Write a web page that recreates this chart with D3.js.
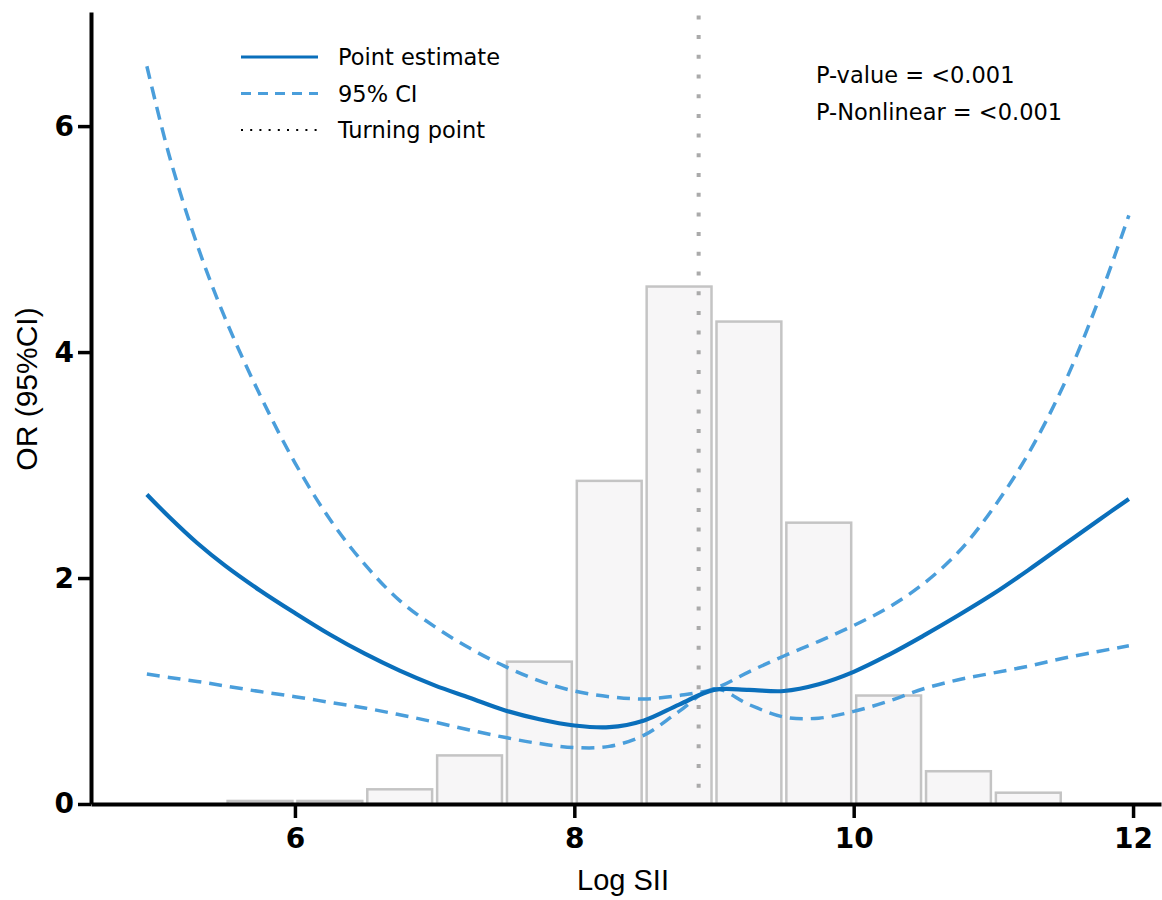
<!DOCTYPE html>
<html>
<head>
<meta charset="utf-8">
<script src="https://cdn.jsdelivr.net/npm/d3@7"></script>
<style>
  body { margin: 0; background: #fff; }
</style>
</head>
<body>
<script>
// spline curve values
const xGrid = [4.94, 5.1, 5.3, 5.5, 5.75, 6.0, 6.25, 6.5, 6.75, 7.0, 7.25, 7.5, 7.75, 8.0, 8.25, 8.5, 8.75, 9.0,
  9.25, 9.5, 9.75, 10.0, 10.25, 10.5, 10.75, 11.0, 11.25, 11.5, 11.75, 11.97];
const estimate = [2.74, 2.54, 2.31, 2.11, 1.89, 1.69, 1.50, 1.33, 1.18, 1.05, 0.94, 0.83, 0.75, 0.695, 0.68, 0.74, 0.88, 1.01,
  1.01, 1.00, 1.06, 1.17, 1.32, 1.49, 1.67, 1.86, 2.07, 2.29, 2.51, 2.70];
const upperCI = [6.53, 5.74, 4.95, 4.30, 3.62, 3.02, 2.52, 2.12, 1.80, 1.57, 1.38, 1.22, 1.09, 1.00, 0.95, 0.93, 0.96, 1.02,
  1.17, 1.31, 1.44, 1.58, 1.74, 1.95, 2.23, 2.62, 3.10, 3.70, 4.45, 5.21];
const lowerCI = [1.15, 1.12, 1.085, 1.045, 0.995, 0.95, 0.90, 0.85, 0.79, 0.725, 0.655, 0.59, 0.535, 0.50, 0.51, 0.61, 0.82, 1.02,
  0.88, 0.77, 0.76, 0.82, 0.91, 1.02, 1.10, 1.16, 1.22, 1.29, 1.35, 1.40];

// histogram of Log SII (scaled to OR axis)
const binStart = [5.5, 6.0, 6.5, 7.0, 7.5, 8.0, 8.5, 9.0, 9.5, 10.0, 10.5, 11.0];
const binHeight = [0.027, 0.027, 0.13, 0.43, 1.26, 2.86, 4.58, 4.27, 2.49, 0.96, 0.29, 0.10];
const binWidth = 0.5;

const turningPoint = 8.89;
const xTicks = [6, 8, 10, 12];
const yTicks = [0, 2, 4, 6];
const legendLabels = ["Point estimate", "95% CI", "Turning point"];
const statLabels = ["P-value = <0.001", "P-Nonlinear = <0.001"];

const W = 1162, H = 900;
const svg = d3.select("body").append("svg")
  .attr("width", W).attr("height", H)
  .style("font-family", "'DejaVu Sans', sans-serif");

const x = d3.scaleLinear().domain([4.54, 12.2]).range([91, 1161]);
const y = d3.scaleLinear().domain([0, 7.01]).range([804, 12]);

// histogram bars
svg.append("g").selectAll("rect")
  .data(binStart)
  .enter().append("rect")
  .attr("x", (d) => x(d) + 2.5)
  .attr("width", (d) => x(d + binWidth) - x(d) - 5)
  .attr("y", (d, i) => y(binHeight[i]))
  .attr("height", (d, i) => y(0) - y(binHeight[i]))
  .attr("fill", "#f7f6f7")
  .attr("stroke", "#c4c4c4")
  .attr("stroke-width", 2.5);

// turning point
svg.append("line")
  .attr("x1", x(turningPoint)).attr("x2", x(turningPoint))
  .attr("y1", y(6.98)).attr("y2", y(0))
  .attr("stroke", "#aaaaaa")
  .attr("stroke-width", 4)
  .attr("stroke-dasharray", "4,15.7");

const line = (vals) => d3.line()
  .x((d, i) => x(xGrid[i]))
  .y((d) => y(d))
  .curve(d3.curveCatmullRom.alpha(0.5))(vals);

svg.append("path").attr("d", line(upperCI))
  .attr("fill", "none").attr("stroke", "#4a9edb")
  .attr("stroke-width", 3.5).attr("stroke-dasharray", "13,8");
svg.append("path").attr("d", line(lowerCI))
  .attr("fill", "none").attr("stroke", "#4a9edb")
  .attr("stroke-width", 3.5).attr("stroke-dasharray", "13,8");
svg.append("path").attr("d", line(estimate))
  .attr("fill", "none").attr("stroke", "#0a6fbb")
  .attr("stroke-width", 4.2);

// axes
const xAxis = svg.append("g")
  .attr("transform", `translate(0,${y(0)})`)
  .call(d3.axisBottom(x).tickValues(xTicks).tickFormat(d3.format("d"))
    .tickSize(14).tickSizeOuter(0).tickPadding(10));
const yAxis = svg.append("g")
  .attr("transform", `translate(${x(4.54)},0)`)
  .call(d3.axisLeft(y).tickValues(yTicks).tickFormat(d3.format("d"))
    .tickSize(13).tickSizeOuter(0).tickPadding(4));

[xAxis, yAxis].forEach((g) => {
  g.select(".domain").attr("stroke", "#000").attr("stroke-width", 4);
  g.selectAll(".tick line").attr("stroke", "#000").attr("stroke-width", 3.5);
  g.selectAll(".tick text")
    .attr("fill", "#000")
    .style("font-family", "'DejaVu Sans', sans-serif")
    .style("font-size", "28px")
    .style("font-weight", "bold");
});

svg.append("text")
  .attr("x", 623).attr("y", 890)
  .attr("text-anchor", "middle")
  .style("font-family", "'Liberation Sans', Arial, sans-serif")
  .style("font-size", "29px")
  .text("Log SII");

svg.append("text")
  .attr("transform", "translate(37,389) rotate(-90)")
  .attr("text-anchor", "middle")
  .style("font-family", "'Liberation Sans', Arial, sans-serif")
  .style("font-size", "30px")
  .text("OR (95%CI)");

// legend
const legendStyles = [
  { stroke: "#0a6fbb", width: 3, dash: null },
  { stroke: "#4a9edb", width: 3, dash: "10,7" },
  { stroke: "#000", width: 2, dash: "2,7.2" }
];
const legend = svg.append("g");
legendLabels.forEach((label, i) => {
  const ly = 57 + i * 36.5;
  const s = legendStyles[i];
  legend.append("line")
    .attr("x1", 241).attr("x2", 318)
    .attr("y1", ly).attr("y2", ly)
    .attr("stroke", s.stroke)
    .attr("stroke-width", s.width)
    .attr("stroke-dasharray", s.dash);
  legend.append("text")
    .attr("x", 338).attr("y", ly + 8)
    .style("font-size", "22.5px")
    .text(label);
});

statLabels.forEach((label, i) => {
  svg.append("text")
    .attr("x", 816).attr("y", 83 + i * 37)
    .style("font-size", "22.5px")
    .text(label);
});
</script>
</body>
</html>
